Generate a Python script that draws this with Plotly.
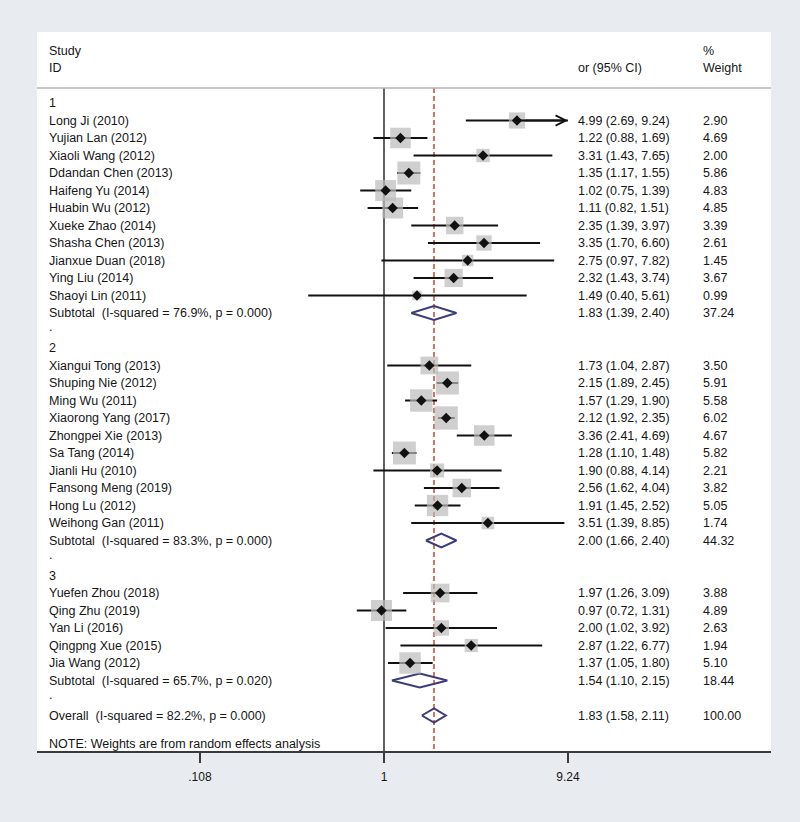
import math
import plotly.graph_objects as go

# ---------------- data ----------------
group_labels = ["1", "2", "3"]
studies_1 = ["Long Ji (2010)", "Yujian Lan (2012)", "Xiaoli Wang (2012)", "Ddandan Chen (2013)",
             "Haifeng Yu (2014)", "Huabin Wu (2012)", "Xueke Zhao (2014)", "Shasha Chen (2013)",
             "Jianxue Duan (2018)", "Ying Liu (2014)", "Shaoyi Lin (2011)"]
or_1 = [4.99, 1.22, 3.31, 1.35, 1.02, 1.11, 2.35, 3.35, 2.75, 2.32, 1.49]
lo_1 = [2.69, 0.88, 1.43, 1.17, 0.75, 0.82, 1.39, 1.70, 0.97, 1.43, 0.40]
hi_1 = [9.24, 1.69, 7.65, 1.55, 1.39, 1.51, 3.97, 6.60, 7.82, 3.74, 5.61]
w_1 = [2.90, 4.69, 2.00, 5.86, 4.83, 4.85, 3.39, 2.61, 1.45, 3.67, 0.99]

studies_2 = ["Xiangui Tong (2013)", "Shuping Nie (2012)", "Ming Wu (2011)", "Xiaorong Yang (2017)",
             "Zhongpei Xie (2013)", "Sa Tang (2014)", "Jianli Hu (2010)", "Fansong Meng (2019)",
             "Hong Lu (2012)", "Weihong Gan (2011)"]
or_2 = [1.73, 2.15, 1.57, 2.12, 3.36, 1.28, 1.90, 2.56, 1.91, 3.51]
lo_2 = [1.04, 1.89, 1.29, 1.92, 2.41, 1.10, 0.88, 1.62, 1.45, 1.39]
hi_2 = [2.87, 2.45, 1.90, 2.35, 4.69, 1.48, 4.14, 4.04, 2.52, 8.85]
w_2 = [3.50, 5.91, 5.58, 6.02, 4.67, 5.82, 2.21, 3.82, 5.05, 1.74]

studies_3 = ["Yuefen Zhou (2018)", "Qing Zhu (2019)", "Yan Li (2016)", "Qingpng Xue (2015)", "Jia Wang (2012)"]
or_3 = [1.97, 0.97, 2.00, 2.87, 1.37]
lo_3 = [1.26, 0.72, 1.02, 1.22, 1.05]
hi_3 = [3.09, 1.31, 3.92, 6.77, 1.80]
w_3 = [3.88, 4.89, 2.63, 1.94, 5.10]

subtotal_labels = ["Subtotal  (I-squared = 76.9%, p = 0.000)",
                   "Subtotal  (I-squared = 83.3%, p = 0.000)",
                   "Subtotal  (I-squared = 65.7%, p = 0.020)"]
sub_or = [1.83, 2.00, 1.54]
sub_lo = [1.39, 1.66, 1.10]
sub_hi = [2.40, 2.40, 2.15]
sub_w = [37.24, 44.32, 18.44]

overall_label = "Overall  (I-squared = 82.2%, p = 0.000)"
overall_or, overall_lo, overall_hi, overall_w = 1.83, 1.58, 2.11, 100.00

note_text = "NOTE: Weights are from random effects analysis"
tick_vals = [0.108, 1, 9.24]
tick_text = [".108", "1", "9.24"]
axis_max = 9.24

# ---------------- layout geometry ----------------
W, H = 800, 822
px_left, px_right = 37, 771
px_top, px_bottom = 32, 751
x_one_px = 384
px_per_decade = 190.5
row0_px = 103
row_h = 17.5

log_lo = (px_left - x_one_px) / px_per_decade
log_hi = (px_right - x_one_px) / px_per_decade
y_top = (px_top - row0_px) / row_h
y_bot = (px_bottom - row0_px) / row_h
sep_row = (88 - row0_px) / row_h


def paper_x(px):
    return (px - px_left) / (px_right - px_left)


TEXT = "#161616"
FONT = "Liberation Sans, Arial, Helvetica, sans-serif"
FS = 12.5
BG = "#e8ebef"

fig = go.Figure()
annotations = []


def add_text(x_px, row, txt, size=FS):
    annotations.append(dict(x=paper_x(x_px), xref="paper", y=row, yref="y", text=txt,
                            showarrow=False, xanchor="left", yanchor="middle",
                            font=dict(family=FONT, size=size, color=TEXT)))


groups = [(studies_1, or_1, lo_1, hi_1, w_1),
          (studies_2, or_2, lo_2, hi_2, w_2),
          (studies_3, or_3, lo_3, hi_3, w_3)]

# header
add_text(47, -3, "Study")
add_text(47, -2, "ID")
add_text(576, -2, "or (95% CI)")
add_text(701, -3, "%")
add_text(701, -2, "Weight")

# reference lines (drawn first)
fig.add_trace(go.Scatter(x=[1, 1], y=[sep_row, y_bot], mode="lines",
                         line=dict(color="#3a3a3a", width=1.6), hoverinfo="skip", showlegend=False))
fig.add_trace(go.Scatter(x=[overall_or, overall_or], y=[sep_row, y_bot], mode="lines",
                         line=dict(color="#c4553c", width=1.6, dash="5px,3px"),
                         hoverinfo="skip", showlegend=False))

row = 0
sq_rows, sq_x, sq_size = [], [], []
for gi, (names, ors, los, his, ws) in enumerate(groups):
    add_text(47, row, group_labels[gi])
    row += 1
    for n, o, l, h, w in zip(names, ors, los, his, ws):
        add_text(47, row, n)
        add_text(576, row, f"{o:.2f} ({l:.2f}, {h:.2f})")
        add_text(701, row, f"{w:.2f}")
        sq_rows.append(row)
        sq_x.append(o)
        sq_size.append(9.5 * math.sqrt(w))
        hh = min(h, axis_max)
        fig.add_trace(go.Scatter(x=[l, hh], y=[row, row], mode="lines",
                                 line=dict(color="#111111", width=2), hoverinfo="skip", showlegend=False))
        if h >= axis_max:
            annotations.append(dict(x=math.log10(hh), y=row, xref="x", yref="y",
                                    ax=math.log10(o), ay=row, axref="x", ayref="y",
                                    showarrow=True, arrowhead=5, arrowsize=1.0, arrowwidth=2,
                                    arrowcolor="#111111", text="", standoff=0))
        row += 1
    # subtotal
    add_text(47, row, subtotal_labels[gi])
    add_text(576, row, f"{sub_or[gi]:.2f} ({sub_lo[gi]:.2f}, {sub_hi[gi]:.2f})")
    add_text(701, row, f"{sub_w[gi]:.2f}")
    fig.add_trace(go.Scatter(x=[sub_lo[gi], sub_or[gi], sub_hi[gi], sub_or[gi], sub_lo[gi]],
                             y=[row, row - 0.4, row, row + 0.4, row], mode="lines",
                             line=dict(color="#3b3d7a", width=2), hoverinfo="skip", showlegend=False))
    row += 1
    add_text(47, row - 0.2, ".")
    row += 1

overall_row = row
add_text(47, overall_row, overall_label)
add_text(576, overall_row, f"{overall_or:.2f} ({overall_lo:.2f}, {overall_hi:.2f})")
add_text(701, overall_row, f"{overall_w:.2f}")
fig.add_trace(go.Scatter(x=[overall_lo, overall_or, overall_hi, overall_or, overall_lo],
                         y=[overall_row, overall_row - 0.4, overall_row, overall_row + 0.4, overall_row],
                         mode="lines", line=dict(color="#3b3d7a", width=2),
                         hoverinfo="skip", showlegend=False))

add_text(47, overall_row + 1.65, note_text)

# squares and point markers
fig.add_trace(go.Scatter(x=sq_x, y=sq_rows, mode="markers",
                         marker=dict(symbol="square", size=sq_size, color="#bababa",
                                     line=dict(width=0)),
                         hoverinfo="skip", showlegend=False))
fig.add_trace(go.Scatter(x=sq_x, y=sq_rows, mode="markers",
                         marker=dict(symbol="diamond", size=8, color="#111111", line=dict(width=0)),
                         hoverinfo="skip", showlegend=False))

# separator under header
shapes = [dict(type="line", xref="paper", x0=0, x1=1, yref="y", y0=sep_row, y1=sep_row,
               line=dict(color="#b5b5b5", width=1.5))]

fig.update_layout(
    width=W, height=H,
    margin=dict(l=px_left, r=W - px_right, t=px_top, b=H - px_bottom),
    paper_bgcolor=BG, plot_bgcolor="#ffffff",
    annotations=annotations, shapes=shapes,
    xaxis=dict(type="log", range=[log_lo, log_hi], showgrid=False, zeroline=False,
               showline=True, linecolor="#3a3a3a", linewidth=2,
               ticks="outside", ticklen=10, tickwidth=1.5, tickcolor="#3a3a3a",
               tickvals=tick_vals, ticktext=tick_text, ticklabelstandoff=4,
               tickfont=dict(family=FONT, size=12, color=TEXT), fixedrange=True),
    yaxis=dict(range=[y_bot, y_top], showgrid=False, zeroline=False, showticklabels=False,
               showline=False, fixedrange=True),
    showlegend=False,
)

fig.write_html("out.html", config={"displayModeBar": False},
               post_script="document.body.style.margin='0';document.body.style.background='" + BG + "';")
